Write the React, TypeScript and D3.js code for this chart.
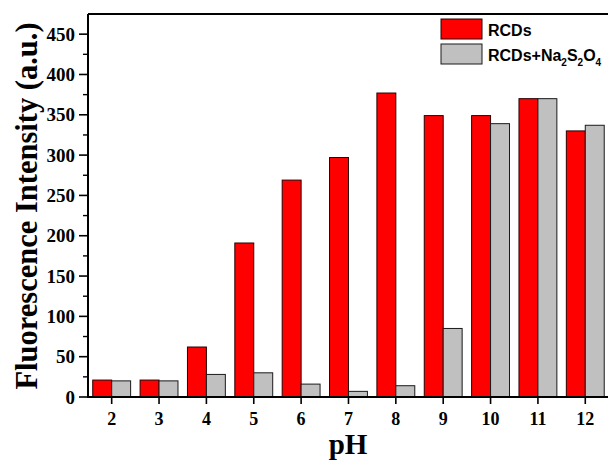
import React from "react";
import * as d3 from "d3";

// pH values on the x axis
const phValues = [2, 3, 4, 5, 6, 7, 8, 9, 10, 11, 12];
// Fluorescence intensity (a.u.) of RCDs alone
const rcds = [21, 21, 62, 191, 269, 297, 377, 349, 349, 370, 330];
// Fluorescence intensity (a.u.) of RCDs + Na2S2O4
const rcdsNa = [20, 20, 28, 30, 16, 7, 14, 85, 339, 370, 337];
const yMajorTicks = [0, 50, 100, 150, 200, 250, 300, 350, 400, 450];
const yMinorTicks = [25, 75, 125, 175, 225, 275, 325, 375, 425];

const W = 608;
const H = 462;
const left = 88;
const top = 14;
const bottom = 397;

export default function App() {
  const x = d3.scaleLinear().domain([1.5, 12.5]).range([left, left + 11 * 47.36]);
  const y = d3.scaleLinear().domain([0, 475]).range([bottom, top]);
  const barW = x(0.4) - x(0);
  const serif = "'Liberation Serif', 'Times New Roman', serif";
  const sans = "'Liberation Sans', Arial, sans-serif";

  return (
    <svg
      width={W}
      height={H}
      viewBox={`0 0 ${W} ${H}`}
      style={{ position: "absolute", left: 0, top: 0, background: "#fff" }}
    >
      <rect x={0} y={0} width={W} height={H} fill="#fff" />
      {/* bars */}
      {phValues.map((p, i) => (
        <g key={p}>
          <rect
            x={x(p) - barW}
            y={y(rcds[i])}
            width={barW}
            height={y(0) - y(rcds[i])}
            fill="#ff0000"
            stroke="#2a0000"
            strokeWidth={1}
          />
          <rect
            x={x(p)}
            y={y(rcdsNa[i])}
            width={barW}
            height={y(0) - y(rcdsNa[i])}
            fill="#c0c0c0"
            stroke="#1a1a1a"
            strokeWidth={1}
          />
        </g>
      ))}

      {/* frame */}
      <line x1={left} x2={left} y1={top} y2={bottom} stroke="#000" strokeWidth={2} />
      <line x1={left} x2={W + 5} y1={top} y2={top} stroke="#000" strokeWidth={2} />
      <line x1={left - 1} x2={W + 5} y1={bottom} y2={bottom} stroke="#000" strokeWidth={2} />

      {/* y ticks */}
      {yMajorTicks.map((t) => (
        <g key={t}>
          <line x1={left - 9} x2={left} y1={y(t)} y2={y(t)} stroke="#000" strokeWidth={1.6} />
          <text
            x={left - 13}
            y={y(t)}
            textAnchor="end"
            dominantBaseline="central"
            fontFamily={serif}
            fontWeight="bold"
            fontSize={19}
            fill="#000"
          >
            {t}
          </text>
        </g>
      ))}
      {yMinorTicks.map((t) => (
        <line key={t} x1={left - 5} x2={left} y1={y(t)} y2={y(t)} stroke="#000" strokeWidth={1.4} />
      ))}

      {/* x ticks */}
      {phValues.map((p) => (
        <g key={p}>
          <line x1={x(p)} x2={x(p)} y1={bottom} y2={bottom + 7} stroke="#000" strokeWidth={1.6} />
          <text
            x={x(p)}
            y={bottom + 28}
            textAnchor="middle"
            fontFamily={serif}
            fontWeight="bold"
            fontSize={18}
            fill="#000"
          >
            {p}
          </text>
        </g>
      ))}

      {/* axis titles */}
      <text
        x={348}
        y={454}
        textAnchor="middle"
        fontFamily={serif}
        fontWeight="bold"
        fontSize={29}
        fill="#000"
      >
        pH
      </text>
      <text
        transform={`translate(37, 206) rotate(-90)`}
        textAnchor="middle"
        fontFamily={serif}
        fontWeight="bold"
        fontSize={30.5}
        fill="#000"
      >
        Fluorescence Intensity (a.u.)
      </text>

      {/* legend */}
      <rect x={441} y={19} width={41} height={20} fill="#ff0000" stroke="#2a0000" strokeWidth={1} />
      <rect x={441} y={44} width={41} height={20} fill="#c0c0c0" stroke="#1a1a1a" strokeWidth={1} />
      <text x={488} y={35.5} fontFamily={sans} fontWeight="bold" fontSize={16} fill="#000">
        RCDs
      </text>
      <text x={488} y={60.5} fontFamily={sans} fontWeight="bold" fontSize={16} fill="#000">
        RCDs+Na
        <tspan fontSize={10} dy={5}>2</tspan>
        <tspan dy={-5}>S</tspan>
        <tspan fontSize={10} dy={5}>2</tspan>
        <tspan dy={-5}>O</tspan>
        <tspan fontSize={10} dy={5}>4</tspan>
      </text>
    </svg>
  );
}
